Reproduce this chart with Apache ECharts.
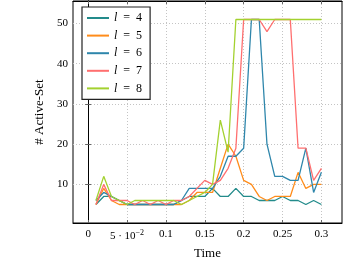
<!DOCTYPE html>
<html><head><meta charset="utf-8">
<script src="https://cdn.jsdelivr.net/npm/echarts@6/dist/echarts.min.js"></script>
<style>html,body{margin:0;padding:0;background:#fff}#c{width:344px;height:265px}</style>
</head><body><div id="c"></div><script>
const times = [0.01,0.02,0.03,0.04,0.05,0.06,0.07,0.08,0.09,0.10,0.11,0.12,0.13,0.14,0.15,0.16,0.17,0.18,0.19,0.20,0.21,0.22,0.23,0.24,0.25,0.26,0.27,0.28,0.29,0.30];
const xTicks = [0,0.05,0.1,0.15,0.2,0.25,0.3];
const yTicks = [10,20,30,40,50];
const l4 = [5,7,7,6,5,5,5,5,5,5,5,6,7,7,7,9,7,7,9,7,7,6,6,6,7,6,6,5,6,5];
const l5 = [5,9,6,5,5,5,5,5,5,5,5,5,6,8,8,8,14,20,17,11,10,7,6,7,7,7,13,9,10,10];
const l6 = [6,8,7,6,5,5,5,5,5,5,5,6,9,9,9,9,12,17,17,19,51,51,20,12,12,11,11,19,8,13];
const l7 = [5,10,6,6,6,5,6,5,6,5,6,6,7,9,11,10,11,14,19,51,51,51,48,51,51,51,19,19,11,14];
const l8 = [6,12,7,6,5,6,6,6,6,6,6,5,6,7,8,10,26,18,51,51,51,51,51,51,51,51,51,51,51,51];
const names = ['4','5','6','7','8'];
const values = [l4,l5,l6,l7,l8];
const colors = ['#238b8b','#ff8c1a','#2e86ab','#ff6f6f','#a3d12f'];
const FONT = 'Liberation Serif';

const chart = echarts.init(document.getElementById('c'), null, {renderer:'canvas'});
const pair = v => times.map((t,i)=>[t,v[i]]);
const grid = {left:73, top:1, width:269, height:222, show:true, borderColor:'#000', borderWidth:1};
const splitStyle = {show:true, lineStyle:{color:'#c4c4c4', type:[1,2], width:1}};
const tick = vals => ({show:true, customValues:vals, inside:true, length:3, lineStyle:{color:'#666'}});
const xFmt = v => Math.abs(v)<1e-9 ? '0' : (Math.abs(v-0.05)<1e-9 ? '5 · 10{sup|−2}' : String(+v.toFixed(2)));

chart.setOption({
  animation:false,
  grid: grid,
  legend: {
    left:82, top:7, orient:'vertical', icon:'rect', itemWidth:22, itemHeight:2, itemGap:5.6,
    padding:[5,8,5,5], borderColor:'#222', borderWidth:1.2, backgroundColor:'#fff',
    formatter: n => '{i|l}\u2002=\u2002' + n.split('= ')[1],
    textStyle:{fontFamily:FONT, fontSize:12, color:'#000', lineHeight:12,
      rich:{i:{fontFamily:FONT, fontSize:12, fontStyle:'italic', color:'#000', lineHeight:12}}}
  },
  xAxis: [{
    type:'value', min:-0.0195, max:0.3265, position:'bottom',
    axisLine:{show:true, lineStyle:{color:'#000', width:1}},
    axisTick: tick(xTicks),
    axisLabel:{customValues:xTicks, formatter:xFmt, margin:6, color:'#000', fontFamily:FONT, fontSize:11,
      rich:{sup:{fontFamily:FONT, fontSize:8, verticalAlign:'top', padding:[0,0,6,0]}}},
    splitLine: splitStyle,
    name:'Time', nameLocation:'middle', nameGap:24,
    nameTextStyle:{fontFamily:FONT, fontSize:13, color:'#000'}
  },{
    type:'value', min:-0.0195, max:0.3265, position:'top',
    axisLine:{show:true, lineStyle:{color:'#000'}}, axisTick: tick(xTicks),
    axisLabel:{show:false}, splitLine:{show:false}
  }],
  yAxis: [{
    type:'value', min:0.4, max:55.6, position:'left',
    axisLine:{show:true, lineStyle:{color:'#000'}},
    axisTick: tick(yTicks),
    axisLabel:{customValues:yTicks, margin:5, color:'#000', fontFamily:FONT, fontSize:11},
    splitLine: splitStyle,
    name:'# Active-Set', nameLocation:'middle', nameGap:27, nameRotate:90,
    nameTextStyle:{fontFamily:FONT, fontSize:13, color:'#000'}
  },{
    type:'value', min:0.4, max:55.6, position:'right',
    axisLine:{show:true, lineStyle:{color:'#000'}}, axisTick: tick(yTicks),
    axisLabel:{show:false}, splitLine:{show:false}
  }],
  series: values.map((v,i)=>({
    name:'l = '+names[i], type:'line', data:pair(v), xAxisIndex:0, yAxisIndex:0,
    symbol:'none', color:colors[i], lineStyle:{width:1.3, color:colors[i]}, z:2+i
  }))
});
</script></body></html>
